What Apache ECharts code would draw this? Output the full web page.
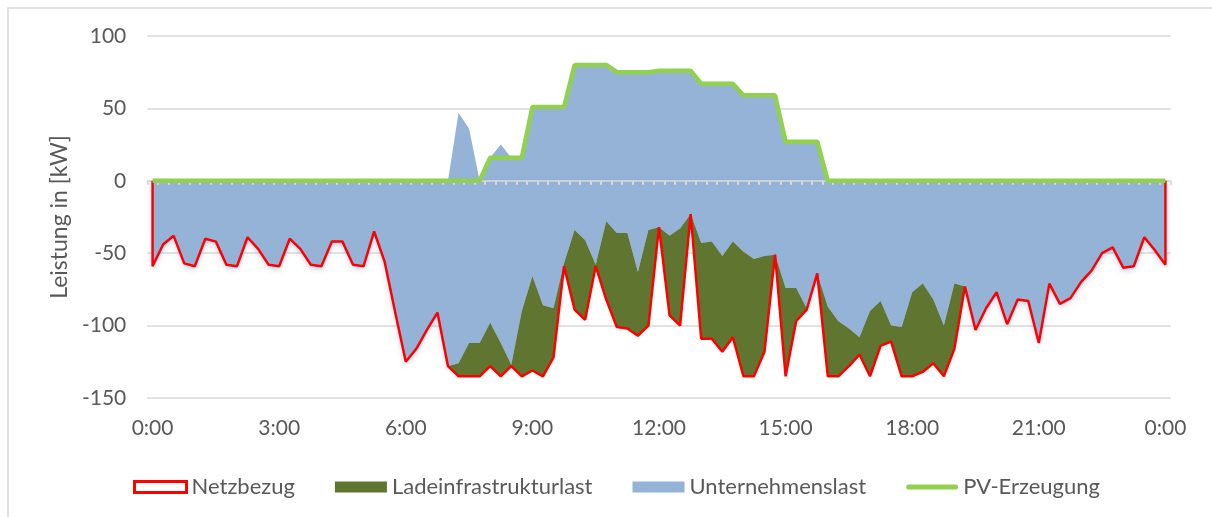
<!DOCTYPE html>
<html>
<head>
<meta charset="utf-8">
<script src="https://cdn.jsdelivr.net/npm/echarts@6/dist/echarts.min.js"></script>
<style>
  html, body { margin: 0; padding: 0; background: #fff; }
  #chart { width: 1212px; height: 517px; }
</style>
</head>
<body>
<div id="chart"></div>
<script>
// 15-Minuten-Raster von 0:00 bis 0:00 (97 Punkte)
const zeiten = []
for (let i = 0; i <= 96; i++) {
  const h = Math.floor(i / 4) % 24
  const m = (i % 4) * 15
  zeiten.push(h + ':' + (m === 0 ? '00' : m))
}

// Netzbezug (rote Linie) in kW
const netzbezug = [
  -59, -44, -38, -57, -59, -40, -42, -58, -59, -39,
  -47, -58, -59, -40, -47, -58, -59, -42, -42, -58,
  -59, -35, -56, -91, -125, -116, -103, -91, -128, -135,
  -135, -135, -128, -135, -128, -135, -131, -135, -122, -59,
  -89, -96, -59, -82, -101, -102, -107, -100, -32, -93,
  -100, -23, -109, -109, -118, -108, -135, -135, -118, -51,
  -135, -97, -89, -64, -135, -135, -128, -120, -135, -114,
  -111, -135, -135, -132, -126, -135, -116, -73, -103, -88,
  -77, -99, -82, -83, -112, -71, -85, -81, -70, -62,
  -50, -46, -60, -59, -39, -48, -58
]

// Unternehmenslast (negativer Teil, blau)
const unternehmenslast = [
  -59, -44, -38, -57, -59, -40, -42, -58, -59, -39,
  -47, -58, -59, -40, -47, -58, -59, -42, -42, -58,
  -59, -35, -56, -91, -125, -116, -103, -91, -128, -126,
  -112, -112, -98, -112, -127, -90, -66, -86, -88, -57,
  -34, -41, -58, -28, -36, -36, -63, -34, -32, -38,
  -33, -23, -43, -42, -52, -42, -49, -54, -52, -51,
  -74, -74, -88, -64, -87, -97, -102, -108, -90, -83,
  -100, -101, -77, -71, -82, -100, -71, -73, -103, -88,
  -77, -99, -82, -83, -112, -71, -85, -81, -70, -62,
  -50, -46, -60, -59, -39, -48, -58
]

// Unternehmenslast oberhalb 0 (blau)
const unternehmenslastPositiv = [
  0, 0, 0, 0, 0, 0, 0, 0, 0, 0,
  0, 0, 0, 0, 0, 0, 0, 0, 0, 0,
  0, 0, 0, 0, 0, 0, 0, 0, 0, 47,
  36, 0, 16, 25, 16, 16, 51, 51, 51, 51,
  80, 80, 80, 80, 75, 75, 75, 75, 76, 76,
  76, 76, 67, 67, 67, 67, 59, 59, 59, 59,
  27, 27, 27, 27, 0, 0, 0, 0, 0, 0,
  0, 0, 0, 0, 0, 0, 0, 0, 0, 0,
  0, 0, 0, 0, 0, 0, 0, 0, 0, 0,
  0, 0, 0, 0, 0, 0, 0
]

// Ladeinfrastrukturlast (dunkelgrün, unter Unternehmenslast gestapelt)
const ladeinfrastrukturlast = [
  0, 0, 0, 0, 0, 0, 0, 0, 0, 0,
  0, 0, 0, 0, 0, 0, 0, 0, 0, 0,
  0, 0, 0, 0, 0, 0, 0, 0, 0, -9,
  -23, -23, -30, -23, -1, -45, -65, -49, -34, -2,
  -55, -55, -1, -54, -65, -66, -44, -66, 0, -55,
  -67, 0, -66, -67, -66, -66, -86, -81, -66, 0,
  -61, -23, -1, 0, -48, -38, -26, -12, -45, -31,
  -11, -34, -58, -61, -44, -35, -45, 0, 0, 0,
  0, 0, 0, 0, 0, 0, 0, 0, 0, 0,
  0, 0, 0, 0, 0, 0, 0
]

// PV-Erzeugung (hellgrüne Linie)
const pvErzeugung = [
  0, 0, 0, 0, 0, 0, 0, 0, 0, 0,
  0, 0, 0, 0, 0, 0, 0, 0, 0, 0,
  0, 0, 0, 0, 0, 0, 0, 0, 0, 0,
  0, 0, 16, 16, 16, 16, 51, 51, 51, 51,
  80, 80, 80, 80, 75, 75, 75, 75, 76, 76,
  76, 76, 67, 67, 67, 67, 59, 59, 59, 59,
  27, 27, 27, 27, 0, 0, 0, 0, 0, 0,
  0, 0, 0, 0, 0, 0, 0, 0, 0, 0,
  0, 0, 0, 0, 0, 0, 0, 0, 0, 0,
  0, 0, 0, 0, 0, 0, 0
]

const BLAU = '#95b3d7'
const DUNKELGRUEN = '#5f7530'
const ROT = '#ff0000'
const HELLGRUEN = '#92d050'
const TEXT = '#595959'
const GITTER = '#d9d9d9'
const FONT = 'Lato'

// Netzbezug als Flächenrand: senkrechte Kanten bei 0:00 und 0:00
const netzRand = [[0, 0]]
  .concat(netzbezug.map((v, i) => [i, v]))
  .concat([[netzbezug.length - 1, 0]])

const chart = echarts.init(document.getElementById('chart'))

const option = {
  animation: false,
  textStyle: { fontFamily: FONT },
  graphic: [{
    type: 'rect',
    shape: { x: 8, y: 8, width: 1300, height: 600 },
    style: { fill: 'none', stroke: GITTER, lineWidth: 1.5 },
    silent: true
  }],
  grid: { left: 147.3, right: 41.3, top: 36, bottom: 119 },
  legend: {
    left: 128,
    top: 471,
    itemWidth: 52,
    itemHeight: 11,
    itemGap: 40,
    textStyle: { fontFamily: FONT, fontSize: 22, color: TEXT },
    data: [
      { name: 'Netzbezug', icon: 'rect', itemStyle: { color: '#fff', borderColor: ROT, borderWidth: 3 } },
      { name: 'Ladeinfrastrukturlast', icon: 'rect', itemStyle: { color: DUNKELGRUEN, borderWidth: 0 } },
      { name: 'Unternehmenslast', icon: 'rect', itemStyle: { color: BLAU, borderWidth: 0 } },
      {
        name: 'PV-Erzeugung',
        icon: 'path://M2.5,0 H49.5 A2.5,2.5 0 0 1 49.5,5 H2.5 A2.5,2.5 0 0 1 2.5,0 Z',
        itemStyle: { color: HELLGRUEN, borderWidth: 0 }
      }
    ]
  },
  xAxis: [
    {
      // Achse bei 0 mit Teilstrichen
      type: 'category',
      data: zeiten,
      position: 'bottom',
      boundaryGap: true,
      z: 3,
      axisLine: { onZero: true, lineStyle: { color: GITTER, width: 1.5 } },
      axisTick: { show: true, interval: 0, length: 4, lineStyle: { color: GITTER, width: 2 } },
      axisLabel: { show: false },
      splitLine: { show: false }
    },
    {
      // Beschriftung unten
      type: 'category',
      data: zeiten,
      position: 'bottom',
      boundaryGap: true,
      axisLine: { show: false, onZero: false },
      axisTick: { show: false },
      splitLine: { show: false },
      axisLabel: {
        interval: 11,
        margin: 20,
        fontFamily: FONT,
        fontSize: 21,
        color: TEXT
      }
    }
  ],
  yAxis: {
    type: 'value',
    min: -150,
    max: 100,
    interval: 50,
    name: 'Leistung in [kW]',
    nameLocation: 'middle',
    nameRotate: 90,
    nameGap: 76,
    nameTextStyle: { fontFamily: FONT, fontSize: 23, color: TEXT },
    axisLine: { show: false },
    axisTick: { show: false },
    axisLabel: { margin: 21, fontFamily: FONT, fontSize: 21, color: TEXT },
    splitLine: { lineStyle: { color: GITTER, width: 1.5 } }
  },
  series: [
    {
      name: 'Unternehmenslast',
      type: 'line',
      data: unternehmenslastPositiv,
      symbol: 'none',
      lineStyle: { width: 0, color: BLAU },
      itemStyle: { color: BLAU },
      areaStyle: { color: BLAU, opacity: 1 },
      z: 2
    },
    {
      name: 'Unternehmenslast',
      type: 'line',
      stack: 'last',
      stackStrategy: 'all',
      data: unternehmenslast,
      symbol: 'none',
      lineStyle: { width: 0, color: BLAU },
      itemStyle: { color: BLAU },
      areaStyle: {
        color: BLAU, opacity: 1,
        shadowColor: 'rgba(70, 110, 180, 0.35)', shadowBlur: 6, shadowOffsetY: 3
      },
      z: 2
    },
    {
      name: 'Ladeinfrastrukturlast',
      type: 'line',
      stack: 'last',
      stackStrategy: 'all',
      data: ladeinfrastrukturlast,
      symbol: 'none',
      lineStyle: { width: 0, color: DUNKELGRUEN },
      itemStyle: { color: DUNKELGRUEN },
      areaStyle: { color: DUNKELGRUEN, opacity: 1 },
      z: 2
    },
    {
      name: 'Netzbezug',
      type: 'line',
      data: netzRand,
      symbol: 'none',
      lineStyle: { width: 2.5, color: ROT },
      itemStyle: { color: ROT },
      z: 3
    },
    {
      name: 'PV-Erzeugung',
      type: 'line',
      data: pvErzeugung,
      symbol: 'none',
      lineStyle: { width: 4.5, color: HELLGRUEN },
      itemStyle: { color: HELLGRUEN },
      z: 4
    }
  ]
}

chart.setOption(option)
</script>
</body>
</html>
